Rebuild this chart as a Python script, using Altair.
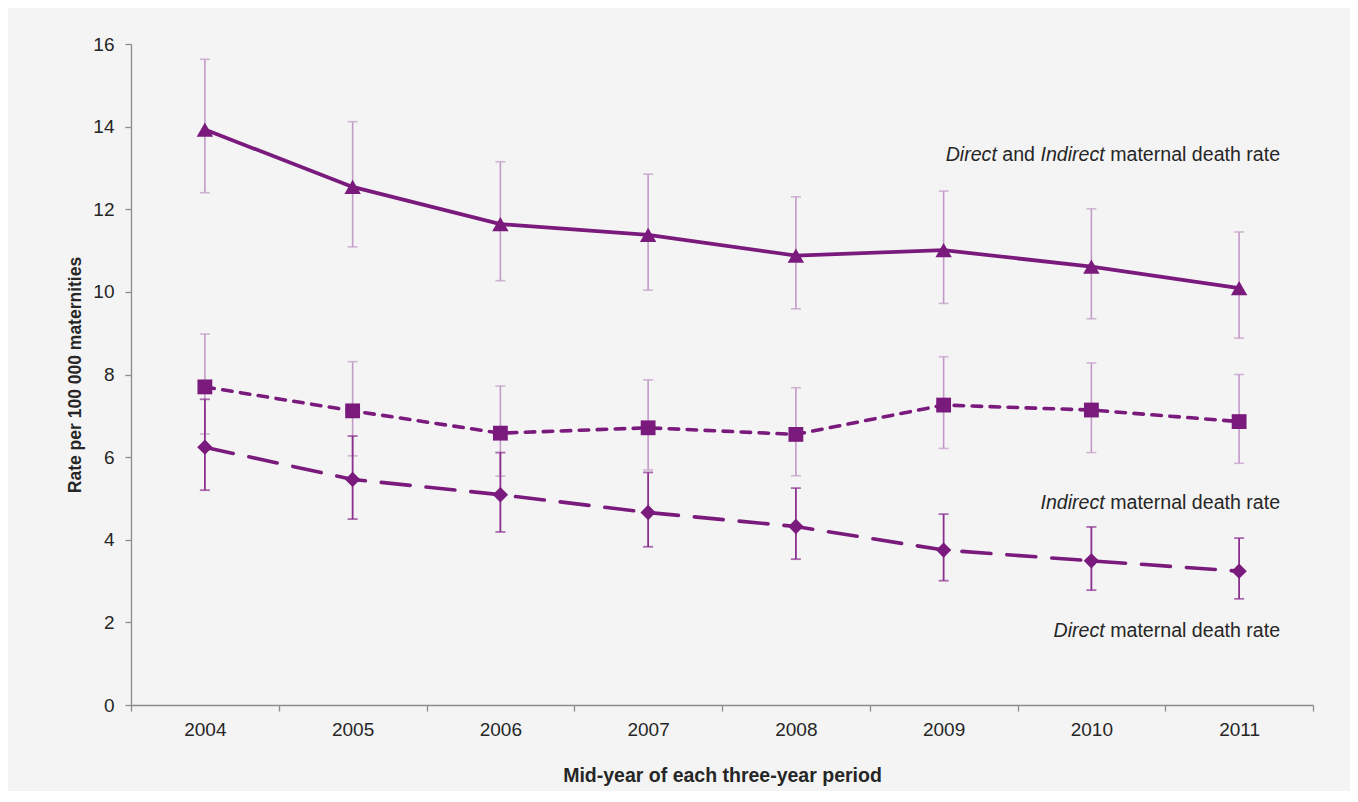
import altair as alt
import pandas as pd

# ---------------- data ----------------
years = ["2004", "2005", "2006", "2007", "2008", "2009", "2010", "2011"]

total_rate = [13.93, 12.54, 11.64, 11.38, 10.88, 11.01, 10.61, 10.09]
total_lo = [12.40, 11.09, 10.27, 10.04, 9.59, 9.72, 9.35, 8.88]
total_hi = [15.63, 14.12, 13.15, 12.85, 12.30, 12.44, 12.01, 11.45]

indirect_rate = [7.70, 7.12, 6.58, 6.71, 6.55, 7.26, 7.14, 6.86]
indirect_lo = [6.56, 6.03, 5.54, 5.69, 5.55, 6.21, 6.11, 5.85]
indirect_hi = [8.98, 8.31, 7.72, 7.87, 7.68, 8.43, 8.28, 8.00]

direct_rate = [6.24, 5.46, 5.09, 4.66, 4.32, 3.75, 3.49, 3.24]
direct_lo = [5.20, 4.50, 4.19, 3.83, 3.53, 3.01, 2.78, 2.57]
direct_hi = [7.40, 6.51, 6.11, 5.63, 5.25, 4.62, 4.31, 4.04]

series_names = ["total", "indirect", "direct"]

# label text pieces (text, italic) and the value level of their baseline
label_pieces = {
    "total": [("Direct", True), ("and", False), ("Indirect", True), ("maternal death rate", False)],
    "indirect": [("Indirect", True), ("maternal death rate", False)],
    "direct": [("Direct", True), ("maternal death rate", False)],
}
label_levels = {"total": 13.18, "indirect": 4.75, "direct": 1.65}

y_ticks = [0, 2, 4, 6, 8, 10, 12, 14, 16]

# ---------------- build table ----------------
rows = []
for name, v, lo, hi in [
    ("total", total_rate, total_lo, total_hi),
    ("indirect", indirect_rate, indirect_lo, indirect_hi),
    ("direct", direct_rate, direct_lo, direct_hi),
]:
    for yr, a, b, c in zip(years, v, lo, hi):
        rows.append({"year": yr, "series": name, "value": a, "lo": b, "hi": c})
df = pd.DataFrame(rows)

# ---------------- styling ----------------
PURPLE = "#7a1a7d"
LIGHT_BAR = "#c29ac7"
DARK_BAR = "#8a2f8e"
TEXT = "#262626"
AXIS = "#8c8c8c"
FONT = "Liberation Sans"

x_enc = alt.X(
    "year:O",
    scale=alt.Scale(type="band", domain=years, paddingInner=0, paddingOuter=0),
    bandPosition=0.5,
    axis=alt.Axis(
        title="Mid-year of each three-year period",
        labelAngle=0,
        tickBand="extent",
        tickSize=6,
        tickColor=AXIS,
        domainColor=AXIS,
        domainWidth=1.3,
        tickWidth=1.3,
        labelFontSize=19,
        labelColor=TEXT,
        labelPadding=9,
        titleFontSize=19.5,
        titleFontWeight="bold",
        titleColor=TEXT,
        titlePadding=27,
        grid=False,
    ),
)
y_scale = alt.Scale(domain=[0, 16], nice=False)
y_axis = alt.Axis(
    title="Rate per 100 000 maternities",
    values=y_ticks,
    grid=False,
    tickSize=6,
    tickColor=AXIS,
    domainColor=AXIS,
    domainWidth=1.3,
    tickWidth=1.3,
    labelFontSize=19,
    labelColor=TEXT,
    labelPadding=11,
    titleFontSize=17.5,
    titleFontWeight="bold",
    titleColor=TEXT,
    titlePadding=8,
)

base = alt.Chart(df)

def sel(name):
    return base.transform_filter(alt.datum.series == name)

layers = []
# error bars
for name, col, w in [("total", LIGHT_BAR, 1.6), ("indirect", LIGHT_BAR, 1.6), ("direct", DARK_BAR, 1.8)]:
    layers.append(
        sel(name).mark_rule(color=col, strokeWidth=w).encode(
            x=x_enc, y=alt.Y("lo:Q", scale=y_scale, axis=y_axis), y2="hi:Q"
        )
    )
    for f in ["lo", "hi"]:
        layers.append(
            sel(name).mark_tick(color=col, orient="horizontal", size=10, thickness=w).encode(
                x=x_enc, y=alt.Y(f"{f}:Q", scale=y_scale, axis=y_axis)
            )
        )

# lines
line_styles = {
    "total": dict(strokeWidth=3.75),
    "indirect": dict(strokeWidth=3.6, strokeDash=[9.5, 8.5], strokeCap="round"),
    "direct": dict(strokeWidth=3.6, strokeDash=[29, 16], strokeCap="round"),
}
for name in series_names:
    layers.append(
        sel(name).mark_line(color=PURPLE, **line_styles[name]).encode(
            x=x_enc, y=alt.Y("value:Q", scale=y_scale, axis=y_axis)
        )
    )

# markers
marker_styles = {
    "total": dict(shape="triangle-up", size=270),
    "indirect": dict(shape="square", size=220),
    "direct": dict(shape="diamond", size=235),
}
for name in series_names:
    layers.append(
        sel(name).mark_point(color=PURPLE, filled=True, opacity=1, **marker_styles[name]).encode(
            x=x_enc, y=alt.Y("value:Q", scale=y_scale, axis=y_axis)
        )
    )

# series labels (mixed italic / regular pieces, right aligned together)
ARIAL = {"D": 722, "i": 222, "r": 333, "e": 556, "c": 500, "t": 278, " ": 278, "a": 556,
         "n": 556, "d": 556, "I": 278, "m": 833, "l": 222, "h": 556}
LABEL_SIZE = 19.6
RIGHT_DX = 41  # right end of labels relative to the centre of the last year band

def text_width(s):
    return sum(ARIAL.get(ch, 556) for ch in s) * LABEL_SIZE / 1000.0

for name in series_names:
    pieces = label_pieces[name]
    full = " ".join(p for p, _ in pieces)
    left = RIGHT_DX - text_width(full)
    offset = left
    lab_df = pd.DataFrame({"year": [years[-1]], "level": [label_levels[name]]})
    for text, italic in pieces:
        layers.append(
            alt.Chart(lab_df).mark_text(
                text=text,
                align="left",
                baseline="alphabetic",
                dx=offset,
                fontSize=LABEL_SIZE,
                fontStyle="italic" if italic else "normal",
                color=TEXT,
                font=FONT,
            ).encode(x=x_enc, y=alt.Y("level:Q", scale=y_scale, axis=y_axis))
        )
        offset += text_width(text + " ")

chart = (
    alt.layer(*layers)
    .properties(
        width=1182,
        height=661,
        autosize=alt.AutoSizeParams(type="none"),
        padding={"left": 123, "top": 36, "right": 37, "bottom": 86},
        background="#f4f4f4",
    )
    .configure(font=FONT)
    .configure_view(stroke=None)
)

chart.save("out.html", embed_options={"renderer": "svg", "actions": False})
